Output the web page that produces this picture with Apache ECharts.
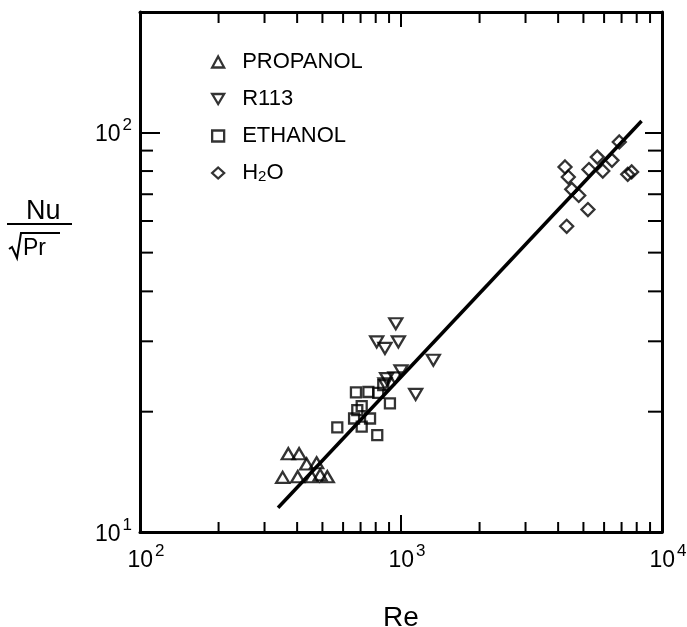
<!DOCTYPE html>
<html>
<head>
<meta charset="utf-8">
<script src="https://cdn.jsdelivr.net/npm/echarts@6/dist/echarts.min.js"></script>
<style>
html, body { margin: 0; padding: 0; background: #fff; }
#chart { width: 687px; height: 627px; }
</style>
</head>
<body>
<div id="chart"></div>
<script>
// data: [Re, Nu/sqrt(Pr)]
var propanol = [[370, 15.7], [407, 15.7], [435, 14.8], [475, 14.9], [352, 13.7], [402, 13.75], [455, 13.75], [490, 13.9], [522, 13.75]];
var r113 = [[955, 33.2], [807, 29.9], [977, 29.9], [868, 28.8], [1330, 26.9], [1000, 25.3], [881, 24.2], [948, 24.3], [868, 23.5], [1138, 22.1]];
var ethanol = [[672, 22.35], [750, 22.4], [818, 22.3], [907, 20.98], [707, 20.65], [680, 20.18], [661, 19.23], [761, 19.23], [707, 18.34], [570, 18.28], [811, 17.48], [855, 23.3]];
var water = [[6860, 94.6], [5650, 86.7], [6430, 85.1], [4250, 81.9], [5250, 80.7], [5930, 80.0], [4375, 77.3], [7390, 78.5], [7650, 79.6], [4510, 72.0], [4797, 69.5], [5202, 64.1], [4313, 58.2]];
var fitLine = [[338, 11.5], [8350, 106.7]];

var xRange = [100, 10000];
var yRange = [10, 200];
var xMinorTicks = [200, 300, 400, 500, 600, 700, 800, 900, 2000, 3000, 4000, 5000, 6000, 7000, 8000, 9000];
var yMinorTicks = [20, 30, 40, 50, 60, 70, 80, 90];

var font = 'Liberation Sans, Arial, sans-serif';
var hollow = { color: 'rgba(0,0,0,0)', borderColor: '#000', borderWidth: 2.3 };
var downTri = 'path://M0,0L12,0L6,10Z';

// 10^n labels
function powLabel(v) {
  var e = Math.round(Math.log(v) / Math.LN10);
  if (Math.abs(Math.pow(10, e) - v) > v * 1e-6) return '';
  return '{b|10}{s|' + e + '}';
}
function powRich(padLeft) {
  return {
    b: { fontSize: 23, lineHeight: 36, fontFamily: font, color: '#000', padding: [0, 0, 0, padLeft] },
    s: { fontSize: 17, lineHeight: 17, verticalAlign: 'top', fontFamily: font, color: '#000', padding: [0, 0, 0, 2] }
  };
}

var chart = echarts.init(document.getElementById('chart'));
chart.setOption({
  backgroundColor: '#fff',
  animation: false,
  textStyle: { fontFamily: font },
  grid: { left: 140, right: 25, top: 12, bottom: 95, outerBoundsMode: 'none' },
  legend: {
    orient: 'vertical',
    left: 206,
    top: 46,
    itemWidth: 12,
    itemHeight: 11,
    itemGap: 15,
    itemStyle: hollow,
    formatter: function (name) {
      if (name === 'H2O') return '{p|H}{sub|2}{t|O}';
      return '{p|' + name + '}';
    },
    textStyle: {
      color: '#000',
      fontFamily: font,
      rich: {
        p: { fontSize: 22, lineHeight: 22, padding: [0, 0, 0, 13], fontFamily: font, color: '#000' },
        t: { fontSize: 22, lineHeight: 22, fontFamily: font, color: '#000' },
        sub: { fontSize: 15, lineHeight: 15, verticalAlign: 'bottom', padding: [6, 0, 0, 0], fontFamily: font, color: '#000' }
      }
    },
    data: [
      { name: 'PROPANOL', icon: 'triangle' },
      { name: 'R113', icon: downTri },
      { name: 'ETHANOL', icon: 'rect' },
      { name: 'H2O', icon: 'diamond' }
    ]
  },
  xAxis: [{
    type: 'log',
    min: xRange[0],
    max: xRange[1],
    position: 'bottom',
    name: 'Re',
    nameLocation: 'middle',
    nameGap: 72,
    nameTextStyle: { fontSize: 28, color: '#000', fontFamily: font },
    axisLine: { lineStyle: { color: '#000', width: 3 } },
    axisTick: { inside: true, length: 17, lineStyle: { color: '#000', width: 2 } },
    axisLabel: { margin: 11, fontSize: 23, formatter: powLabel, rich: powRich(12) },
    splitLine: { show: false }
  }, {
    type: 'log',
    min: xRange[0],
    max: xRange[1],
    position: 'top',
    axisLine: { lineStyle: { color: '#000', width: 3 } },
    axisTick: { inside: true, length: 15, lineStyle: { color: '#000', width: 2 } },
    axisLabel: { show: false },
    splitLine: { show: false }
  }],
  yAxis: [{
    type: 'log',
    min: yRange[0],
    max: yRange[1],
    position: 'left',
    axisLine: { lineStyle: { color: '#000', width: 3 } },
    axisTick: { inside: true, length: 20, lineStyle: { color: '#000', width: 2 } },
    axisLabel: { margin: 8, fontSize: 23, padding: [5, 0, 0, 0], formatter: powLabel, rich: powRich(0) },
    splitLine: { show: false }
  }, {
    type: 'log',
    min: yRange[0],
    max: yRange[1],
    position: 'right',
    axisLine: { lineStyle: { color: '#000', width: 3 } },
    axisTick: { inside: true, length: 17, lineStyle: { color: '#000', width: 2 } },
    axisLabel: { show: false },
    splitLine: { show: false }
  }],
  graphic: [
    { type: 'text', left: 26, top: 198, style: { text: 'Nu', fontSize: 27, fontFamily: font, fill: '#000' } },
    { type: 'line', shape: { x1: 7, y1: 224, x2: 72, y2: 224 }, style: { stroke: '#000', lineWidth: 2 } },
    { type: 'polyline', shape: { points: [[9, 249], [12, 247], [17, 258], [21, 233], [60, 233]] }, style: { stroke: '#000', lineWidth: 2, fill: null } },
    { type: 'text', left: 23, top: 237, style: { text: 'Pr', fontSize: 23, fontFamily: font, fill: '#000' } }
  ],
  series: [{
    name: 'fit',
    type: 'line',
    data: fitLine,
    showSymbol: false,
    symbol: 'none',
    lineStyle: { color: '#000', width: 3.5 },
    silent: true
  }, {
    name: 'PROPANOL',
    type: 'scatter',
    symbol: 'triangle',
    symbolSize: [13, 11],
    itemStyle: hollow,
    data: propanol
  }, {
    name: 'R113',
    type: 'scatter',
    symbol: downTri,
    symbolSize: [13, 11],
    itemStyle: hollow,
    data: r113
  }, {
    name: 'ETHANOL',
    type: 'scatter',
    symbol: 'rect',
    symbolSize: 10,
    itemStyle: hollow,
    data: ethanol
  }, {
    name: 'H2O',
    type: 'scatter',
    symbol: 'diamond',
    symbolSize: 13,
    itemStyle: hollow,
    data: water
  }, {
    name: 'minorTicks',
    type: 'custom',
    silent: true,
    encode: { x: 0, y: 1 },
    data: xMinorTicks.map(function (v) { return [v, yRange[0], 0]; })
      .concat(yMinorTicks.map(function (v) { return [xRange[0], v, 1]; })),
    renderItem: function (params, api) {
      var kind = api.value(2);
      var a, b, segs;
      if (kind === 0) {
        a = api.coord([api.value(0), yRange[0]]);
        b = api.coord([api.value(0), yRange[1]]);
        segs = [[a[0], a[1], a[0], a[1] - 10], [b[0], b[1], b[0], b[1] + 11]];
      } else {
        a = api.coord([xRange[0], api.value(1)]);
        b = api.coord([xRange[1], api.value(1)]);
        segs = [[a[0], a[1], a[0] + 13, a[1]], [b[0], b[1], b[0] - 14, b[1]]];
      }
      return {
        type: 'group',
        children: segs.map(function (s) {
          return {
            type: 'line',
            shape: { x1: s[0], y1: s[1], x2: s[2], y2: s[3] },
            style: { stroke: '#000', lineWidth: 2 }
          };
        })
      };
    }
  }]
});
</script>
</body>
</html>
